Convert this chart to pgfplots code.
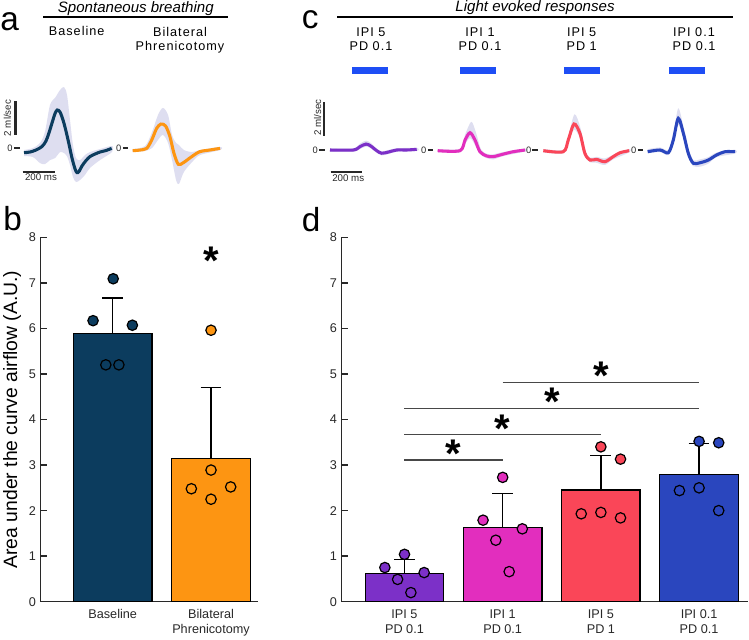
\documentclass[border=0pt]{standalone}
\usepackage{fontspec}
\setmainfont{Liberation Sans}
\newfontfamily\spaced[LetterSpace=8]{Liberation Sans}
\usepackage{pgfplots}
\pgfplotsset{compat=1.18}

\definecolor{clrBase}{RGB}{12,60,94}
\definecolor{clrPhren}{RGB}{253,149,18}
\definecolor{clrA}{RGB}{124,48,200}
\definecolor{clrB}{RGB}{226,46,190}
\definecolor{clrC}{RGB}{250,70,88}
\definecolor{clrD}{RGB}{42,70,190}
\definecolor{clrStim}{RGB}{30,78,245}
\definecolor{clrBand}{RGB}{222,222,240}
\definecolor{clrTxt}{RGB}{40,40,40}

\pgfplotsset{
  barpanel/.style={
    scale only axis, anchor=south west, height=273.3pt,
    ymin=0, ymax=8, ytick={0,...,8},
    axis x line*=bottom, axis y line*=left,
    axis line style={clrTxt, line width=1pt},
    tick align=inside, major tick length=5pt,
    ytick style={clrTxt, line width=1pt},
    xtick style={draw=none},
    tick label style={font=\fontsize{9.5}{11}\selectfont, text=clrTxt},
    xticklabel style={align=center, yshift=-2.5pt},
    /pgf/number format/assume math mode=true,
    clip=false,
  },
  mybar/.style={ybar, bar width=0.8, bar shift=0pt, draw=black, line width=1pt, fill=#1,
    error bars/y dir=plus, error bars/y explicit,
    error bars/error bar style={black, line width=1pt},
    error bars/error mark options={black, line width=1pt, mark size=7.8pt, rotate=90}},
  dots/.style={only marks, mark=*, mark size=3.9pt,
    mark options={fill=#1, draw=black, line width=0.9pt}},
  sigline/.style={draw=clrTxt!85, line width=0.9pt, mark=none},
  trace/.style={hide axis, scale only axis, clip=false, anchor=south west,
    width=66pt, height=#1, xmin=0, xmax=550, ymin=-3, ymax=5},
  band/.style={fill=clrBand, draw=none, smooth, tension=0.5, mark=none},
  curve/.style={draw=#1, line width=2.3pt, smooth, tension=0.5, mark=none},
  sbar/.style={draw=clrTxt, line width=1.6pt, mark=none},
  zdash/.style={draw=clrTxt, line width=1pt, mark=none},
  stim/.style={fill=clrStim, draw=none, mark=none},
}
\tikzset{
  sig/.style={font=\fontsize{30}{30}\bfseries\selectfont, anchor=north, inner sep=0pt},
  zero/.style={font=\fontsize{7}{8}\selectfont, text=clrTxt, inner sep=0pt},
  small/.style={font=\fontsize{7.3}{8}\selectfont, text=clrTxt, inner sep=0pt},
  plet/.style={font=\fontsize{25}{25}\selectfont, anchor=base west, inner sep=0pt},
}

\begin{document}
\begin{tikzpicture}
\path[use as bounding box] (0,0) rectangle (561.75pt,-479.25pt);

% ---------- panel b ----------
\begin{axis}[barpanel, at={(30.525pt,-451.275pt)}, width=162.98pt,
  xmin=0.2675, xmax=2.478, xtick={1,2},
  xticklabels={Baseline, Bilateral\\Phrenicotomy},
  ylabel={Area under the curve airflow (A.U.)},
  ylabel style={at={(axis description cs:-0.132,0.5)}, anchor=center,
    font=\fontsize{14.5}{16}\selectfont},
]
\addplot[mybar=clrBase] coordinates {(1,5.89) +- (0,0.78)};
\addplot[mybar=clrPhren] coordinates {(2,3.15) +- (0,1.55)};
\addplot[dots=clrBase] coordinates {(1.005,7.09) (0.80,6.17) (1.20,6.07) (0.93,5.20) (1.063,5.20)};
\addplot[dots=clrPhren] coordinates {(2.0,5.96) (2.0,2.89) (1.80,2.48) (2.0,2.25) (2.20,2.52)};
\node[sig] at (axis cs:2,7.79) {*};
\end{axis}

% ---------- panel d ----------
\begin{axis}[barpanel, at={(256.275pt,-451.275pt)}, width=304.7pt,
  xmin=0.3605, xmax=4.498, xtick={1,2,3,4},
  xticklabels={IPI 5\\PD 0.1, IPI 1\\PD 0.1, IPI 5\\PD 1, IPI 0.1\\PD 0.1},
]
\addplot[mybar=clrA] coordinates {(1,0.62) +- (0,0.30)};
\addplot[mybar=clrB] coordinates {(2,1.63) +- (0,0.75)};
\addplot[mybar=clrC] coordinates {(3,2.45) +- (0,0.76)};
\addplot[mybar=clrD] coordinates {(4,2.79) +- (0,0.68)};
\addplot[dots=clrA] coordinates {(1.0,1.04) (0.80,0.75) (1.20,0.64) (0.93,0.49) (1.065,0.20)};
\addplot[dots=clrB] coordinates {(2.0,2.73) (1.80,1.79) (2.20,1.60) (1.93,1.35) (2.066,0.66)};
\addplot[dots=clrC] coordinates {(3.0,3.40) (3.20,3.13) (2.80,1.93) (3.0,1.96) (3.20,1.84)};
\addplot[dots=clrD] coordinates {(4.0,3.52) (4.20,3.49) (4.0,2.50) (3.80,2.44) (4.20,2.00)};
\addplot[sigline] coordinates {(1,3.11) (2,3.11)};
\addplot[sigline] coordinates {(1,3.67) (3,3.67)};
\addplot[sigline] coordinates {(1,4.25) (4,4.25)};
\addplot[sigline] coordinates {(2,4.81) (4,4.81)};
\node[sig] at (axis cs:1.5,3.55) {*};
\node[sig] at (axis cs:2.0,4.10) {*};
\node[sig] at (axis cs:2.5,4.69) {*};
\node[sig] at (axis cs:3.0,5.27) {*};
\end{axis}

% ---------- panel a traces ----------
\begin{axis}[trace=100.5pt, at={(18pt,-148.69pt)}]
\addplot[band] coordinates {(0,-0.12) (56,0) (100,0.30) (131,0.96) (162.5,2.57) (194,2.99)
  (225,3.46) (250,3.64) (269,3.16) (287.5,1.67) (306,0.18) (325,-0.60) (350,-0.72)
  (381,-0.42) (412.5,-0.24) (475,-0.06) (550,0.12)
  (550,-0.24) (475,-0.72) (412.5,-1.19) (381,-1.61) (350,-1.91) (325,-2.03) (306,-1.73)
  (287.5,-1.01) (269,-0.5) (250,-0.3) (225,-0.25) (194,-0.60) (162.5,-0.72) (131,-0.96)
  (100,-0.90) (56,-0.54) (0,-0.48)};
\addplot[curve=clrBase] coordinates {(0,-0.28) (37.5,-0.24) (75,-0.12) (112.5,0.09)
  (137.5,0.42) (156,0.90) (175,1.49) (194,2.06) (208,2.27) (225,2.15) (244,1.67)
  (262.5,1.01) (281,0.24) (300,-0.60) (319,-1.25) (331,-1.47) (344,-1.40) (362.5,-1.07)
  (387.5,-0.75) (412.5,-0.51) (444,-0.36) (475,-0.24) (512.5,-0.15) (548,-0.02)};
\addplot[sbar] coordinates {(-53,0.78) (-53,2.82)};
\addplot[sbar] coordinates {(-8,-1.41) (194,-1.41)};
\addplot[zdash] coordinates {(-60,0) (-22,0)};
\node[zero] at (axis cs:-88,0) {0};
\node[small, rotate=90] at (axis cs:-103,1.79) {2 ml/sec};
\node[small] at (axis cs:106,-1.76) {200 ms};
\end{axis}

\begin{axis}[trace=100.5pt, at={(99.525pt,-148.69pt)}]
\addplot[band] coordinates {(0,-0.06) (77,0.12) (121,0.96) (158,1.97) (189,2.39) (221,1.97)
  (246,0.78) (271,0.30) (289,0.18) (320,-0.12) (371,-0.24) (421,-0.12) (546,0.06)
  (546,-0.12) (421,-0.42) (371,-0.84) (320,-1.43) (289,-2.15) (271,-1.91) (246,-0.72)
  (221,0.30) (189,0.78) (158,0.48) (121,0) (77,-0.18) (0,-0.24)};
\addplot[curve=clrPhren] coordinates {(0,-0.16) (45.6,-0.12) (87.5,-0.02) (119,0.48)
  (150,1.18) (177,1.43) (206,1.31) (233,0.67) (258,-0.32) (285,-0.97) (316,-0.88)
  (368,-0.52) (419,-0.22) (482,-0.12) (546,-0.02)};
\addplot[zdash] coordinates {(-62,0) (-28,0)};
\node[zero] at (axis cs:-88,0) {0};
\end{axis}

% ---------- panel c traces ----------
\begin{axis}[trace=102pt, at={(247.5pt,-150.75pt)}]
\addplot[stim] coordinates {(135,4.47) (360,4.47) (360,4.9) (135,4.9)};
\addplot[band] coordinates {(0,0.1) (146,0.1) (187.5,0.38) (225,0.55) (254,0.42) (292,0.08)
  (323,-0.08) (365,0) (417,0.1) (542,0.12)
  (542,-0.06) (417,-0.1) (365,-0.24) (323,-0.32) (292,-0.16) (254,0.1) (225,0.2)
  (187.5,0.06) (146,-0.1) (0,-0.1)};
\addplot[curve=clrA] coordinates {(0,0) (146,0) (187.5,0.2) (225,0.35) (254,0.24)
  (292,-0.04) (323,-0.19) (365,-0.12) (417,0) (479,0) (542,0.04)};
\addplot[sbar] coordinates {(-36,0.84) (-36,2.81)};
\addplot[sbar] coordinates {(4,-1.28) (198,-1.28)};
\addplot[zdash] coordinates {(-67,0) (-31,0)};
\node[zero] at (axis cs:-92,0) {0};
\node[small, rotate=90] at (axis cs:-78,1.91) {2 ml/sec};
\node[small] at (axis cs:114,-1.66) {200 ms};
\end{axis}

\begin{axis}[trace=102pt, at={(328.275pt,-150.75pt)}]
\addplot[stim] coordinates {(139,4.47) (364,4.47) (364,4.9) (139,4.9)};
\addplot[band] coordinates {(0,0.06) (139,0.08) (171,0.9) (210,1.66) (240,1.0) (270,0.05)
  (306,-0.22) (348,-0.25) (410,-0.12) (546,0.08)
  (546,-0.08) (410,-0.36) (348,-0.55) (306,-0.48) (264,-0.25) (233,0.3) (202,0.7)
  (171,0.35) (139,-0.14) (0,-0.12)};
\addplot[curve=clrB] coordinates {(0,-0.04) (139,-0.04) (171,0.59) (202,1.02) (233,0.59)
  (264,-0.1) (306,-0.35) (348,-0.39) (410,-0.24) (472,-0.1) (546,0)};
\addplot[zdash] coordinates {(-62,0) (-28,0)};
\node[zero] at (axis cs:-88,0) {0};
\end{axis}

\begin{axis}[trace=102pt, at={(407.475pt,-150.75pt)}]
\addplot[stim] coordinates {(132,4.47) (355,4.47) (355,4.9) (132,4.9)};
\addplot[band] coordinates {(0,0.06) (125,0.02) (156,0.8) (195,2.1) (232,1.3) (262,0.0)
  (292,-0.45) (333,-0.4) (385,-0.5) (437,-0.28) (537,0.06)
  (537,-0.14) (437,-0.55) (385,-0.88) (333,-0.75) (292,-0.72) (260,-0.35) (229,0.7)
  (192,1.2) (156,0.4) (125,-0.2) (0,-0.14)};
\addplot[curve=clrC] coordinates {(0,-0.04) (125,-0.1) (156,0.59) (192,1.53) (229,0.98)
  (260,-0.2) (292,-0.59) (333,-0.55) (385,-0.69) (437,-0.39) (479,-0.16) (537,-0.04)};
\addplot[zdash] coordinates {(-69,0) (-31,0)};
\node[zero] at (axis cs:-91,0) {0};
\end{axis}

\begin{axis}[trace=102pt, at={(485.775pt,-150.75pt)}]
\addplot[stim] coordinates {(135,4.47) (358,4.47) (358,4.9) (135,4.9)};
\addplot[band] coordinates {(0,0.05) (77,0.15) (129,0.0) (160,0.9) (191,2.45) (225,1.3)
  (256,0.0) (285,-0.6) (327,-0.55) (379,-0.42) (431,-0.15) (546,0.02)
  (546,-0.2) (431,-0.42) (379,-0.8) (327,-0.98) (285,-0.95) (254,-0.45) (223,0.65)
  (191,1.5) (160,0.35) (129,-0.3) (77,-0.12) (0,-0.2)};
\addplot[curve=clrD] coordinates {(0,-0.1) (77,0) (129,-0.16) (160,0.59) (191,1.86)
  (223,0.98) (254,-0.2) (285,-0.78) (327,-0.75) (379,-0.59) (431,-0.29) (483,-0.1) (546,-0.1)};
\addplot[zdash] coordinates {(-62,0) (-28,0)};
\node[zero] at (axis cs:-88,0) {0};
\end{axis}

% ---------- headings and panel letters ----------
\begin{scope}[x=0.75pt, y=-0.75pt]
\node[plet] at (0,30) {a};
\node[plet] at (3,230) {b};
\node[plet] at (301.7,28.3) {c};
\node[plet] at (301.7,231.7) {d};
\node[anchor=base, inner sep=0pt, font=\fontsize{11.3}{12}\itshape] at (135.8,12.3) {Spontaneous breathing};
\draw[line width=1.3pt] (43.3,17.3) -- (228.3,17.3);
\node[anchor=base, inner sep=0pt, font=\fontsize{11.3}{12}\itshape] at (535,11.7) {Light evoked responses};
\draw[line width=1.3pt] (337.3,17.3) -- (733.3,17.3);
\begin{scope}[every node/.style={anchor=base, inner sep=0pt, align=center,
    font=\spaced\fontsize{9.5}{11}\selectfont}]
\node at (76.7,36) {Baseline};
\node at (180,50.7) {Bilateral\\Phrenicotomy};
\node at (371,50.7) {IPI 5\\PD 0.1};
\node at (480,50.7) {IPI 1\\PD 0.1};
\node at (581.7,50.7) {IPI 5\\PD 1};
\node at (694,50.7) {IPI 0.1\\PD 0.1};
\end{scope}
\end{scope}
\end{tikzpicture}
\end{document}
